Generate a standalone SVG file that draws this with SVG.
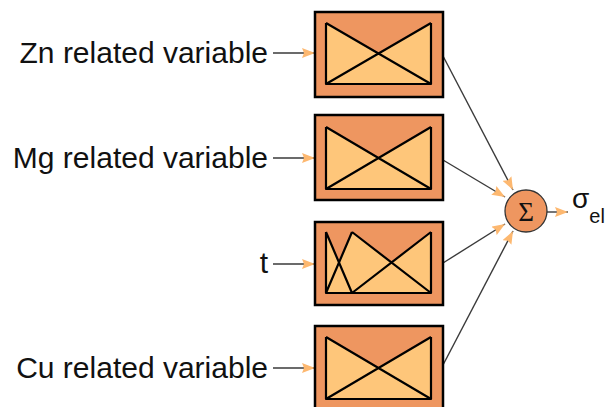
<svg xmlns="http://www.w3.org/2000/svg" width="606" height="407" viewBox="0 0 606 407">
<style>
.box{fill:#EE9660;stroke:#000;stroke-width:2.5}
.lite{fill:#FEC67A;stroke:none}
.ln{fill:none;stroke:#000;stroke-width:2.2;stroke-linejoin:round}
.lbl{font-family:"Liberation Sans",Arial,sans-serif;font-size:30px;fill:#111;text-anchor:end}
.con{fill:none;stroke:#3a3a3a;stroke-width:1.4}
</style>
<defs>
<marker id="ah" viewBox="0 0 13 10" refX="13" refY="5" markerWidth="13" markerHeight="10" markerUnits="userSpaceOnUse" orient="auto">
<path d="M0,0 L13,5 L0,10 L2,5 Z" fill="#FDB870"/>
</marker>
</defs>
<rect width="606" height="407" fill="#fff"/>

<g id="connectors">
<line class="con" x1="273" y1="53" x2="315" y2="53" marker-end="url(#ah)"/>
<line class="con" x1="273" y1="158" x2="315" y2="158" marker-end="url(#ah)"/>
<line class="con" x1="273" y1="264" x2="315" y2="264" marker-end="url(#ah)"/>
<line class="con" x1="273" y1="368" x2="315" y2="368" marker-end="url(#ah)"/>
<line class="con" x1="443" y1="56" x2="513" y2="190" marker-end="url(#ah)"/>
<line class="con" x1="443" y1="160" x2="505" y2="197" marker-end="url(#ah)"/>
<line class="con" x1="443" y1="263" x2="505" y2="224" marker-end="url(#ah)"/>
<line class="con" x1="443" y1="365" x2="513" y2="231" marker-end="url(#ah)"/>
<line class="con" x1="547" y1="212" x2="568" y2="212" marker-end="url(#ah)"/>
</g>

<g id="label-zn"><text class="lbl" x="268" y="63">Zn related variable</text></g>
<g id="label-mg"><text class="lbl" x="268" y="168">Mg related variable</text></g>
<g id="label-t"><text class="lbl" x="268" y="273">t</text></g>
<g id="label-cu"><text class="lbl" x="268" y="378">Cu related variable</text></g>

<g id="node-zn">
<rect class="box" x="315" y="12" width="128" height="85"/>
<polygon class="lite" points="326,23 378.5,53.5 431,23 431,84 326,84"/>
<path class="ln" d="M326,23 L326,84 L431,84 L431,23 M326,23 L431,84 M431,23 L326,84"/>
</g>

<g id="node-mg">
<rect class="box" x="315" y="115" width="128" height="85"/>
<polygon class="lite" points="326,127 378.5,158 431,127 431,189 326,189"/>
<path class="ln" d="M326,127 L326,189 L431,189 L431,127 M326,127 L431,189 M431,127 L326,189"/>
</g>

<g id="node-t">
<rect class="box" x="315" y="222" width="128" height="83"/>
<polygon class="lite" points="326,232 339,262.5 352,232 391.5,262.5 431,232 431,293 326,293"/>
<path class="ln" d="M326,232 L326,293 L431,293 L431,232 M326,232 L352,293 M352,232 L326,293 M352,232 L431,293 M431,232 L352,293"/>
</g>

<g id="node-cu">
<rect class="box" x="315" y="326" width="128" height="85"/>
<polygon class="lite" points="326,337 378.5,368 431,337 431,399 326,399"/>
<path class="ln" d="M326,337 L326,399 L431,399 L431,337 M326,337 L431,399 M431,337 L326,399"/>
</g>

<g id="node-sum">
<circle cx="526" cy="211" r="21" fill="#EE9660" stroke="#333" stroke-width="1.3"/>
<text x="526" y="220.5" font-family="Liberation Serif,Times New Roman,serif" font-size="27" text-anchor="middle" fill="#111">Σ</text>
</g>

<g id="output">
<text x="572" y="208" font-family="Liberation Sans,Arial,sans-serif" font-size="28" fill="#111">σ<tspan font-size="20" dy="15">el</tspan></text>
</g>
</svg>
